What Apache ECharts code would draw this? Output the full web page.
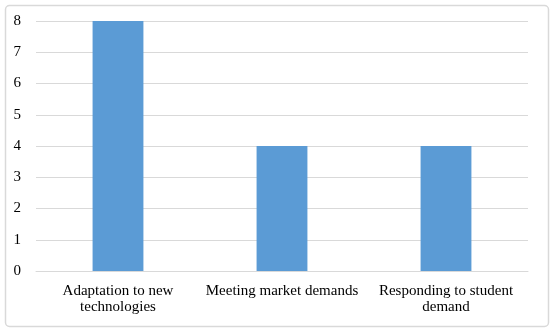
<!DOCTYPE html>
<html>
<head>
<meta charset="utf-8">
<script src="https://cdn.jsdelivr.net/npm/echarts@6/dist/echarts.min.js"></script>
<style>html,body{margin:0;padding:0;background:#fff}#c{width:550px;height:329px}</style>
</head>
<body>
<div id="c"></div>
<script>
var categories = ["Adaptation to new\ntechnologies", "Meeting market demands", "Responding to student\ndemand"];
var values = [8, 4, 4];
var yTicks = {min: 0, max: 8, interval: 1};

var chart = echarts.init(document.getElementById('c'), null, {renderer: 'canvas'});
chart.setOption({
  animation: false,
  textStyle: {fontFamily: 'Liberation Serif'},
  graphic: [{
    type: 'rect', left: 3, top: 3,
    shape: {width: 543, height: 321, r: 4},
    style: {fill: 'none', stroke: '#d9d9d9', lineWidth: 1.5},
    silent: true
  }],
  grid: {left: 36, right: 22, top: 21, bottom: 58},
  xAxis: {
    type: 'category', data: categories,
    axisLine: {show: true, lineStyle: {color: '#d9d9d9', width: 1}},
    axisTick: {show: false},
    axisLabel: {color: '#000', fontSize: 15, fontFamily: 'Liberation Serif', lineHeight: 16, margin: 12, interval: 0}
  },
  yAxis: {
    type: 'value', min: yTicks.min, max: yTicks.max, interval: yTicks.interval,
    axisLine: {show: false}, axisTick: {show: false},
    splitLine: {lineStyle: {color: '#d9d9d9', width: 1}},
    axisLabel: {color: '#000', fontSize: 15, fontFamily: 'Liberation Serif', margin: 15}
  },
  series: [{
    type: 'bar', data: values, barWidth: '31%',
    itemStyle: {color: '#5b9bd5'}
  }]
});
</script>
</body>
</html>
